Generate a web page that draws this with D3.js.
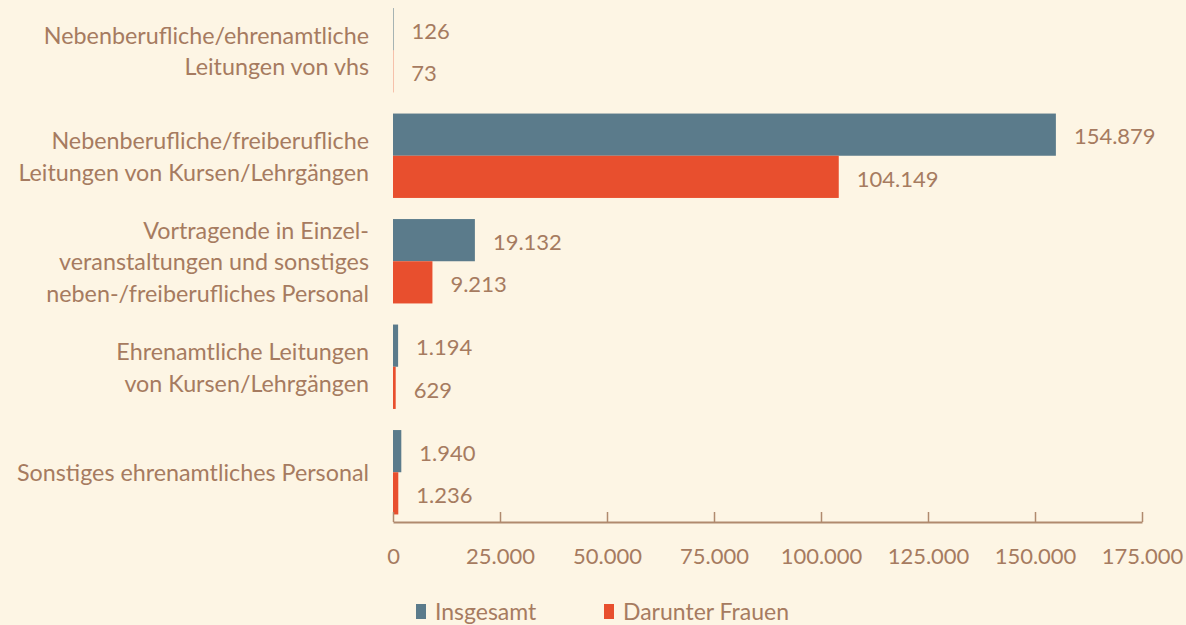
<!DOCTYPE html>
<html>
<head>
<meta charset="utf-8">
<script src="https://cdn.jsdelivr.net/npm/d3@7"></script>
<style>
	body { margin: 0; background: #fdf5e4; }
	svg { display: block; font-family: "Lato", "Open Sans", sans-serif; }
	.lbl { fill: #a67b60; }
</style>
</head>
<body>
<svg id="chart" width="1186" height="625"></svg>
<script>
// Data
var categories = [
	["Nebenberufliche/ehrenamtliche", "Leitungen von vhs"],
	["Nebenberufliche/freiberufliche", "Leitungen von Kursen/Lehrgängen"],
	["Vortragende in Einzel-", "veranstaltungen und sonstiges", "neben-/freiberufliches Personal"],
	["Ehrenamtliche Leitungen", "von Kursen/Lehrgängen"],
	["Sonstiges ehrenamtliches Personal"]
];
var insgesamt = [126, 154879, 19132, 1194, 1940];
var frauen = [73, 104149, 9213, 629, 1236];
var seriesNames = ["Insgesamt", "Darunter Frauen"];
var seriesColors = ["#5b7b8b", "#e84f2e"];
var xTicks = [0, 25000, 50000, 75000, 100000, 125000, 150000, 175000];

var svg = d3.select("#chart");
var textColor = "#a67b60";

var x = d3.scaleLinear().domain([0, 175000]).range([393, 1142]);
var y = d3.scaleBand()
	.domain(d3.range(categories.length))
	.range([-2.5, 525])
	.paddingInner(0.2)
	.paddingOuter(0.1);
var sub = d3.scaleBand().domain([0, 1]).range([0, y.bandwidth()]);

var fmt = d3.formatLocale({decimal: ",", thousands: ".", grouping: [3], currency: ["", "€"]}).format(",d");

var rows = categories.map(function(c, i) {
	return {label: c, values: [insgesamt[i], frauen[i]]};
});

var g = svg.selectAll("g.row")
	.data(rows)
	.enter().append("g")
	.attr("class", "row")
	.attr("transform", function(d, i) { return "translate(0," + y(i) + ")"; });

g.selectAll("rect")
	.data(function(d) { return d.values; })
	.enter().append("rect")
	.attr("x", x(0))
	.attr("y", function(d, j) { return sub(j); })
	.attr("width", function(d) { return x(d) - x(0); })
	.attr("height", sub.bandwidth())
	.attr("fill", function(d, j) { return seriesColors[j]; });

g.selectAll("text.val")
	.data(function(d) { return d.values; })
	.enter().append("text")
	.attr("class", "val lbl")
	.attr("x", function(d) { return x(d) + 18; })
	.attr("y", function(d, j) { return sub(j) + sub.bandwidth() / 2 + 2; })
	.attr("dy", "0.35em")
	.style("font-size", "22px")
	.text(function(d) { return fmt(d); });

// Category labels
g.each(function(d) {
	var n = d.label.length;
	var lh = 31.5;
	var t = d3.select(this).append("text")
		.attr("class", "lbl")
		.attr("text-anchor", "end")
		.style("font-size", "23.3px");
	d.label.forEach(function(line, k) {
		t.append("tspan")
			.attr("x", 369)
			.attr("y", y.bandwidth() / 2 + 1 + (k - (n - 1) / 2) * lh)
			.attr("dy", "0.35em")
			.text(line);
	});
});

// X axis
var axisY = 522;
var xAxis = d3.axisBottom(x).tickValues(xTicks).tickSize(-10).tickSizeOuter(0).tickFormat(fmt);
var ax = svg.append("g")
	.attr("transform", "translate(0," + axisY + ")")
	.call(xAxis);
ax.select(".domain").attr("stroke", "#b08a6e").attr("stroke-width", 2);
ax.selectAll(".tick line").attr("stroke", "#b08a6e").attr("stroke-width", 1.5);
ax.selectAll(".tick text")
	.attr("y", 26)
	.attr("fill", textColor)
	.style("font-size", "22px")
	.style("font-family", "Lato, sans-serif");

// Legend
var legendX = [416, 604];
var lg = svg.selectAll("g.legend")
	.data(seriesNames)
	.enter().append("g")
	.attr("class", "legend")
	.attr("transform", function(d, i) { return "translate(" + legendX[i] + ",612)"; });
lg.append("rect")
	.attr("x", 0).attr("y", -8)
	.attr("width", 10).attr("height", 15)
	.attr("fill", function(d, i) { return seriesColors[i]; });
lg.append("text")
	.attr("class", "lbl")
	.attr("x", 19)
	.attr("dy", "0.35em")
	.style("font-size", "23px")
	.text(function(d) { return d; });
</script>
</body>
</html>
